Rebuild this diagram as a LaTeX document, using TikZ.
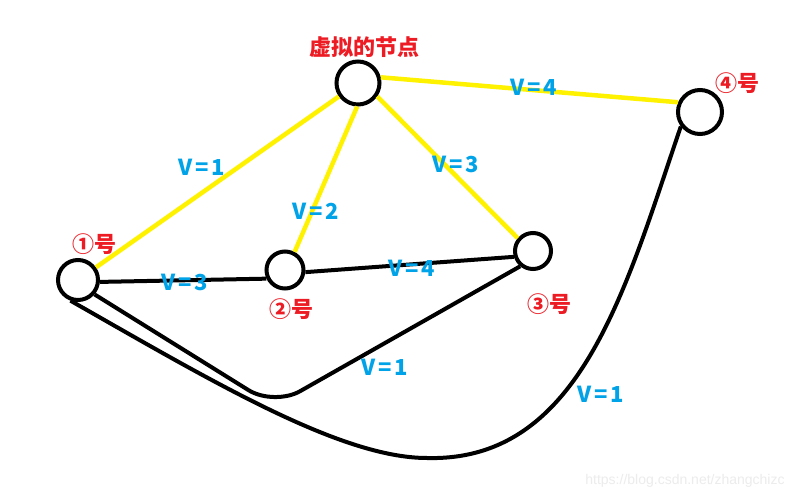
\documentclass[tikz,border=0pt]{standalone}
\usepackage{fontspec}
\newfontfamily\cjk{Noto Sans CJK SC}
\newfontfamily\cjkw{Noto Sans CJK SC}[LetterSpace=12]
\definecolor{pred}{RGB}{237,28,36}
\definecolor{pblue}{RGB}{0,162,232}
\definecolor{pyellow}{RGB}{255,242,0}
\definecolor{wmark}{RGB}{236,236,236}
\tikzset{
  vert/.style={circle, draw=black, line width=4pt, fill=white, inner sep=0pt},
  yedge/.style={draw=pyellow, line width=4.5pt},
  bedge/.style={draw=black, line width=4pt},
  wlabel/.style={text=pblue, font=\cjkw\bfseries\fontsize{22}{22}\selectfont, inner sep=0pt},
  nlabel/.style={text=pred, font=\cjk\bfseries\fontsize{22}{22}\selectfont, inner sep=0pt},
}
\begin{document}
\begin{tikzpicture}[x=1pt,y=-1pt]
\useasboundingbox[fill=white] (0,0) rectangle (807,500);
% vertices
\node[vert, minimum size=43pt] (v) at (358,83) {};
\node[vert, minimum size=40pt] (n1) at (78,280) {};
\node[vert, minimum size=37pt] (n2) at (285,270) {};
\node[vert, minimum size=36pt] (n3) at (533,251) {};
\node[vert, minimum size=44pt] (n4) at (700,112) {};
% yellow edges
\draw[yedge] (v) -- (n1);
\draw[yedge] (v.268) -- (n2.62);
\draw[yedge] (v.-35) -- (n3.140);
\draw[yedge] (v.14) -- (n4.156);
% black edges
\draw[bedge] (n1.-5) -- (n2.205);
\draw[bedge] (n2.-6) -- (n3.197);
\coordinate (c13) at (274,406);
\draw[bedge, rounded corners=30pt] (n1.-41) -- (c13) -- (n3.230);
\coordinate (c14) at (427,458);
\draw[bedge] (n1.250) .. controls (210,380) and (340,458) .. (c14)
  .. controls (580,462) and (625,290) .. (n4.217);
% weight labels
\node[wlabel] (w1) at (202,167) {V=1};
\node[wlabel] (w2) at (316,211) {V=2};
\node[wlabel] (w3) at (456,164) {V=3};
\node[wlabel] (w4) at (534,87) {V=4};
\node[wlabel] (w5) at (185,282) {V=3};
\node[wlabel] (w6) at (412,268) {V=4};
\node[wlabel] (w7) at (385,367) {V=1};
\node[wlabel] (w8) at (601,394) {V=1};
% node labels
\node[nlabel] (lv) at (364,47) {虚拟的节点};
\node[nlabel] (l1) at (94,244) {①号};
\node[nlabel] (l2) at (291,309) {②号};
\node[nlabel] (l3) at (549,304) {③号};
\node[nlabel] (l4) at (737,83) {④号};
% watermark
\node[text=wmark, font=\fontspec{Liberation Sans}\fontsize{14}{14}\selectfont, inner sep=0pt] (wm) at (685,481) {https://blog.csdn.net/zhangchizc};
\end{tikzpicture}
\end{document}
